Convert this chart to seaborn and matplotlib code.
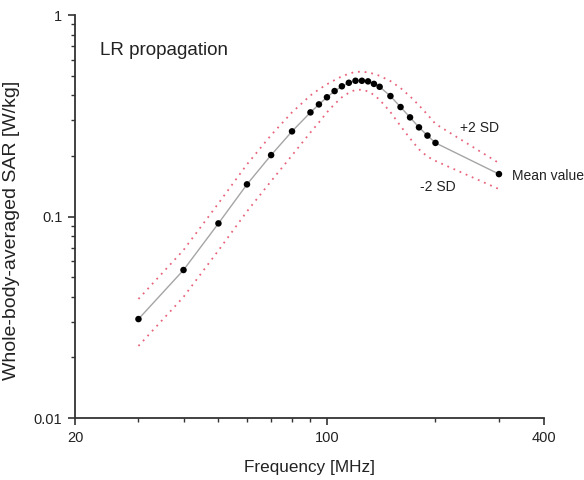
import numpy as np
import pandas as pd
import matplotlib
matplotlib.use("Agg")
import matplotlib.pyplot as plt
import seaborn as sns
from matplotlib.ticker import NullFormatter

# Values
freq_mhz = [30, 40, 50, 60, 70, 80, 90, 95, 100, 105, 110, 115, 120, 125,
            130, 135, 140, 150, 160, 170, 180, 190, 200, 300]
mean_sar = [0.0310, 0.0543, 0.0925, 0.1445, 0.2019, 0.2648, 0.3289, 0.3603,
            0.3909, 0.4196, 0.4432, 0.4613, 0.4720, 0.4720, 0.4688, 0.4555,
            0.4406, 0.3963, 0.3496, 0.3107, 0.2772, 0.2523, 0.2321, 0.1625]
plus_2sd = [0.0390, 0.0682, 0.1163, 0.1816, 0.2538, 0.3290, 0.3994, 0.4277,
            0.4535, 0.4758, 0.4968, 0.5113, 0.5231, 0.5231, 0.5196, 0.5106,
            0.4996, 0.4704, 0.4344, 0.3950, 0.3565, 0.3208, 0.2884, 0.1843]
minus_2sd = [0.0228, 0.0399, 0.0679, 0.1061, 0.1500, 0.2013, 0.2617, 0.2933,
             0.3293, 0.3617, 0.3909, 0.4115, 0.4259, 0.4259, 0.4182, 0.4017,
             0.3798, 0.3301, 0.2814, 0.2444, 0.2156, 0.1984, 0.1889, 0.1369]

x_major = [20, 100, 400]
x_major_labels = ["20", "100", "400"]
y_major = [0.01, 0.1, 1]
y_major_labels = ["0.01", "0.1", "1"]

df = pd.DataFrame({"freq": freq_mhz, "mean": mean_sar,
                   "upper": plus_2sd, "lower": minus_2sd})

sns.set_style("ticks")
plt.rcParams['font.family'] = ['Liberation Sans', 'DejaVu Sans']

axis_col = "#333333"
sd_col = "#e8657c"

fig = plt.figure(figsize=(5.84, 4.8), dpi=100)
ax = fig.add_axes([0.1284, 0.129, 0.8031, 0.8396])

# +/- 2 SD dotted curves
for col in ["upper", "lower"]:
    sns.lineplot(data=df, x="freq", y=col, ax=ax, color=sd_col, lw=1.3,
                 linestyle=(0, (1, 2.7)), errorbar=None)

# mean value line with dots
sns.lineplot(data=df, x="freq", y="mean", ax=ax, color="#a5a5a5", lw=1.0,
             errorbar=None)
sns.scatterplot(data=df, x="freq", y="mean", ax=ax, color="black", s=22,
                edgecolor="none", zorder=3)

ax.set_xscale("log")
ax.set_yscale("log")
ax.set_xlim(20, 400)
ax.set_ylim(0.01, 1)

ax.set_xticks(x_major)
ax.set_xticklabels(x_major_labels)
ax.set_xticks([30, 40, 50, 60, 70, 80, 90, 200, 300], minor=True)
ax.xaxis.set_minor_formatter(NullFormatter())
ax.set_yticks(y_major)
ax.set_yticklabels(y_major_labels)
ax.set_yticks([m * d for d in [0.01, 0.1] for m in range(2, 10)], minor=True)
ax.yaxis.set_minor_formatter(NullFormatter())

sns.despine(ax=ax)
for side in ["left", "bottom"]:
    ax.spines[side].set_color(axis_col)
    ax.spines[side].set_linewidth(1.3)

ax.tick_params(which="major", direction="out", length=5, width=1.2,
               color=axis_col, labelsize=10.5, labelcolor="#222222", pad=4)
ax.tick_params(which="minor", direction="out", length=3, width=1.0,
               color=axis_col)

ax.set_xlabel("Frequency [MHz]", fontsize=12.3, color="#222222")
ax.set_ylabel("Whole-body-averaged SAR [W/kg]", fontsize=14, color="#222222")
ax.xaxis.set_label_coords(0.5, -0.105)
ax.yaxis.set_label_coords(-0.117, 0.466)

ax.text(23.5, 0.67, "LR propagation", fontsize=13.5, va="center", color="#222222")
ax.text(233.9, 0.276, "+2 SD", fontsize=10, va="center", color="#222222")
ax.text(181.2, 0.140, "-2 SD", fontsize=10, va="center", color="#222222")
ax.text(325.4, 0.159, "Mean value", fontsize=10, va="center", color="#222222")

fig.savefig("out.png", dpi=100)
